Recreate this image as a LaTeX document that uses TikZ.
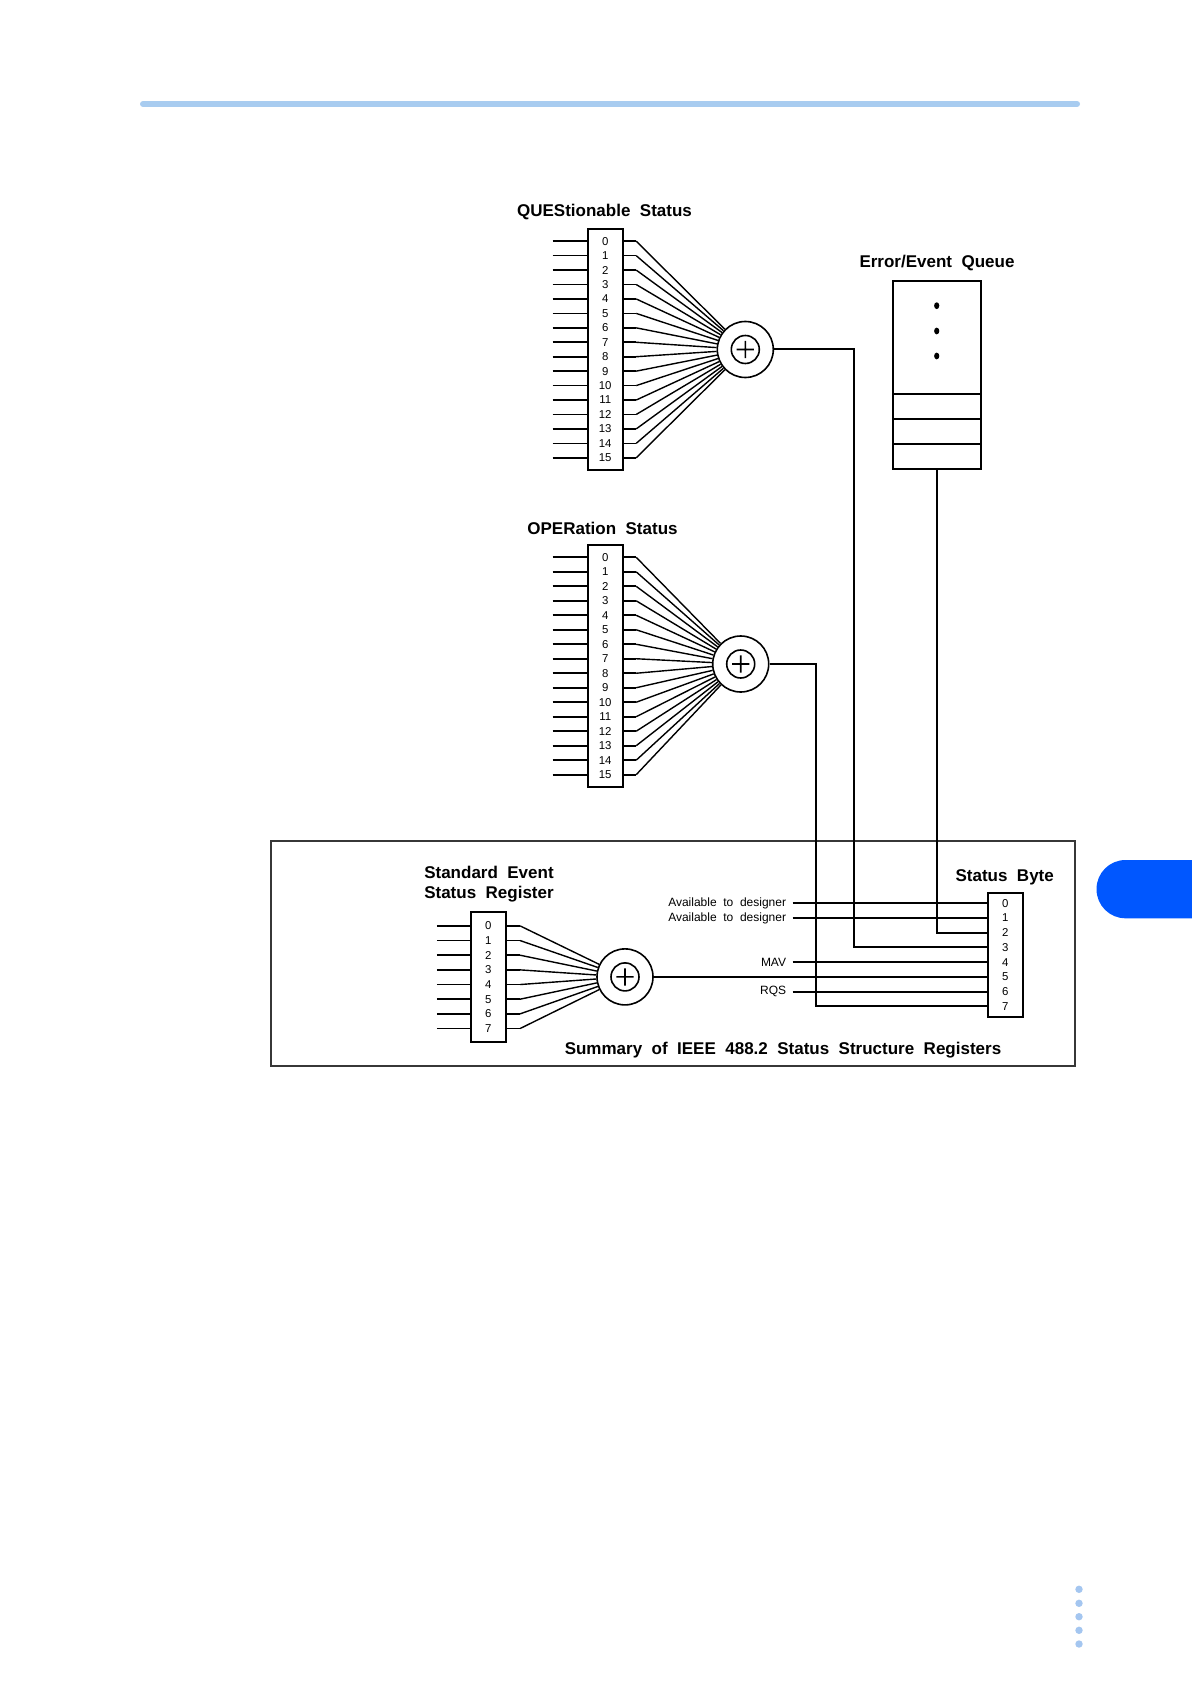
\documentclass[tikz,border=0pt]{standalone}
\usepackage{fontspec}
\setmainfont{Liberation Sans}
\usepackage{tikz}
\usetikzlibrary{positioning, calc}
\definecolor{ruleblue}{RGB}{168,204,240}
\definecolor{tabblue}{RGB}{0,87,255}
\definecolor{dotblue}{RGB}{164,198,240}
\definecolor{framegray}{RGB}{55,55,55}
\tikzset{
  reg/.style={rectangle, draw, line width=1pt, minimum width=17.5pt, inner sep=0pt},
  slot/.style={rectangle, draw, line width=1pt, minimum width=44pt, minimum height=12.5pt,
    inner sep=0pt, outer sep=0pt},
  bit/.style={font=\fontsize{5.7}{6}\selectfont, inner sep=0pt},
  sum/.style={circle, draw, line width=0.8pt, minimum size=28pt, inner sep=0pt,
    path picture={\draw[line width=0.8pt] (path picture bounding box.center) circle[radius=7pt]
      +(-4.3pt,0) -- +(4.3pt,0) +(0,-4.3pt) -- +(0,4.3pt);}},
  ttl/.style={font=\bfseries\fontsize{8.5}{10}\selectfont, inner sep=0pt},
  lbl/.style={font=\fontsize{6}{7}\selectfont, inner sep=3pt, anchor=east},
  wire/.style={line width=1pt},
  stub/.style={line width=0.85pt},
  fan/.style={line width=0.7pt}
}

\begin{document}
\begin{tikzpicture}[x=0.5pt, y=-0.5pt]
  \useasboundingbox (0,0) rectangle (1192,1684);
  \fill[white] (0,0) rectangle (1192,1684);
  \draw[ruleblue, line width=3pt, line cap=round] (143,104) -- (1077,104);
  \fill[tabblue, rounded corners=14.5pt] (1096.5,860) rectangle (1240,918.3);
  \foreach \y in {1589.3,1603.3,1616.7,1630.3,1644}
    \fill[dotblue] (1079,\y) circle[radius=1.85pt];

  % QUEStionable
  \node[reg, minimum height=120.5pt] (ques) at (605.2,349.5) {};
  \node[ttl] (quest) at (604.5,211.7) {QUEStionable\ \ Status};
  \node[sum] (qsum) at (745.3,349.5) {};
  \foreach \i in {0,...,15}{
    \node[bit] (qs\i) at ($(ques.center)+(0,{(\i-7.5)*14.44})$) {\i};
    \coordinate (qa\i) at ($(ques.west |- qs\i)+(-34,0)$);
    \coordinate (qb\i) at ($(ques.east |- qs\i)+(12.5,0)$);
    \draw[stub] (qa\i) -- (ques.west |- qs\i);
    \draw[stub] (ques.east |- qs\i) -- (qb\i);
    \draw[fan] (qb\i) -- (qsum);
  }

  % OPERation
  \node[reg, minimum height=121pt] (oper) at (605.2,666) {};
  \node[ttl] (opert) at (602.5,528.3) {OPERation\ \ Status};
  \node[sum] (osum) at (740.7,664) {};
  \foreach \i in {0,...,15}{
    \node[bit] (op\i) at ($(oper.center)+(0,{(\i-7.5)*14.49})$) {\i};
    \coordinate (oa\i) at ($(oper.west |- op\i)+(-34,0)$);
    \coordinate (ob\i) at ($(oper.east |- op\i)+(12.5,0)$);
    \draw[stub] (oa\i) -- (oper.west |- op\i);
    \draw[stub] (oper.east |- op\i) -- (ob\i);
    \draw[fan] (ob\i) -- (osum);
  }

  % Error/Event Queue
  \node[slot, minimum height=56.5pt] (qtop) at (936.7,337.5) {};
  \node[slot, below=0pt of qtop] (slot1) {};
  \node[slot, below=0pt of slot1] (slot2) {};
  \node[slot, below=0pt of slot2] (slot3) {};
  \node[ttl] (queuet) at (937,263.3) {Error/Event\ \ Queue};
  \foreach \d in {-31.8,-6.5,18.5}
    \fill ($(qtop.center)+(0,\d)$) circle[x radius=1.3pt, y radius=1.7pt];

  % IEEE 488.2 frame
  \draw[framegray, line width=1pt] (271,841) rectangle (1075,1066);
  \node[ttl] (sumt) at (783,1050) {Summary\ \ of\ \ IEEE\ \ 488.2\ \ Status\ \ Structure\ \ Registers};

  % Status Byte
  \node[reg, minimum height=62.2pt] (sbyte) at (1005.2,954.8) {};
  \node[ttl] (sbytet) at (1004.7,877.3) {Status\ \ Byte};
  \foreach \i in {0,...,7}
    \node[bit] (sb\i) at ($(sbyte.center)+(0,{(\i-3.5)*14.71})$) {\i};

  % Standard Event Status Register
  \node[reg, minimum height=65.2pt] (sesr) at (488.3,977.2) {};
  \node[ttl, align=left] (sesrt) at (489,884.3) {Standard\ \ Event\\Status\ \ Register};
  \node[sum] (ssum) at (625,976.9) {};
  \foreach \i in {0,...,7}{
    \node[bit] (se\i) at ($(sesr.center)+(0,{(\i-3.5)*14.66})$) {\i};
    \coordinate (sa\i) at ($(sesr.west |- se\i)+(-33,0)$);
    \coordinate (sc\i) at ($(sesr.east |- se\i)+(13.3,0)$);
    \draw[stub] (sa\i) -- (sesr.west |- se\i);
    \draw[stub] (sesr.east |- se\i) -- (sc\i);
    \draw[fan] (sc\i) -- (ssum);
  }

  \coordinate (avx) at (792.5,0);
  \node[lbl] (av0) at (avx |- sb0) {Available\ \ to\ \ designer};
  \node[lbl] (av1) at (avx |- sb1) {Available\ \ to\ \ designer};
  \node[lbl] (mav) at (avx |- sb4) {MAV};
  \node[lbl] (rqs) at (avx |- sb6) {RQS};
  \coordinate (qbend) at (853.5,349.5);
  \coordinate (obend) at (816,664);

  \draw[wire] (av0) -- (sbyte.west |- sb0);
  \draw[wire] (av1) -- (sbyte.west |- sb1);
  \draw[wire] (slot3) |- (sbyte.west |- sb2);
  \draw[wire] (qsum) -- (qbend) |- (sbyte.west |- sb3);
  \draw[wire] (mav) -- (sbyte.west |- sb4);
  \draw[wire] (ssum) -- (ssum -| sbyte.west);
  \draw[wire] (rqs) -- (sbyte.west |- sb6);
  \draw[wire] (osum) -- (obend) |- (sbyte.west |- sb7);
\end{tikzpicture}
\end{document}
